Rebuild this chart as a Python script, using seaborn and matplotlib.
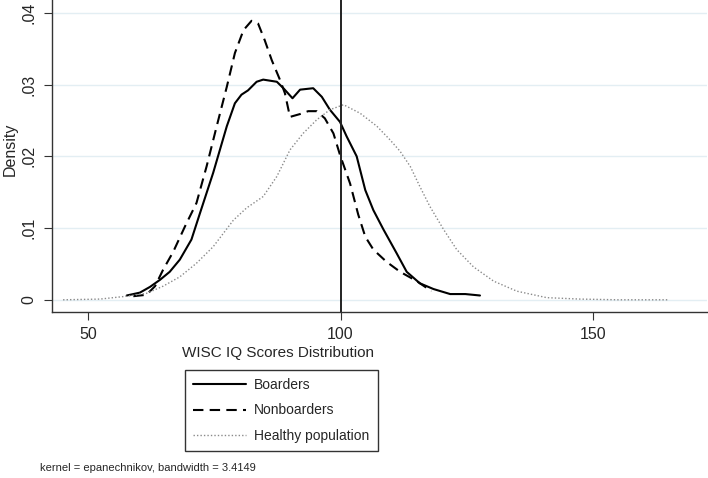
import matplotlib
matplotlib.use("Agg")

import matplotlib.pyplot as plt
import pandas as pd
import seaborn as sns

# ---------------------------------------------------------------------------
# Data (kernel density estimates)
# ---------------------------------------------------------------------------

boarders_x = [57.7, 60.3, 62.3, 64.3, 66.2, 68.2, 70.5, 72.2, 74.8, 77.5, 79.1,
              80.4, 81.7, 83.4, 84.7, 87.4, 88.7, 90.5, 92.0, 94.6, 96.3, 97.9,
              99.9, 101.2, 103.2, 104.9, 106.5, 108.5, 111.1, 113.1, 115.7,
              118.4, 121.7, 124.7, 127.6]
boarders_y = [0.0006, 0.0010, 0.0018, 0.0028, 0.0039, 0.0056, 0.0084, 0.0121,
              0.0177, 0.0242, 0.0274, 0.0286, 0.0292, 0.0304, 0.0307, 0.0304,
              0.0295, 0.0281, 0.0293, 0.0295, 0.0283, 0.0265, 0.0248, 0.0228,
              0.0200, 0.0153, 0.0125, 0.0098, 0.0065, 0.0039, 0.0023, 0.0015,
              0.0008, 0.0008, 0.0006]

nonboarders_x = [59.0, 61.6, 63.3, 64.9, 66.9, 69.2, 71.5, 73.5, 75.5, 77.5,
                 79.1, 80.8, 82.4, 83.7, 85.0, 86.4, 88.0, 89.0, 90.0, 92.0,
                 93.6, 95.3, 96.9, 98.6, 99.9, 101.9, 103.5, 104.9, 106.5,
                 109.1, 111.8, 115.1, 118.0]
nonboarders_y = [0.0005, 0.0007, 0.0019, 0.0042, 0.0067, 0.0102, 0.0135,
                 0.0186, 0.0242, 0.0297, 0.0344, 0.0376, 0.0389, 0.0385,
                 0.0362, 0.0334, 0.0307, 0.0288, 0.0255, 0.0259, 0.0263,
                 0.0263, 0.0253, 0.0232, 0.0202, 0.0162, 0.0119, 0.0088,
                 0.0070, 0.0053, 0.0039, 0.0026, 0.0012]

healthy_x = [45.1, 52.4, 57.7, 61.6, 64.9, 68.2, 71.5, 74.8, 78.8, 81.4, 84.7,
             87.4, 90.0, 92.6, 95.3, 97.9, 100.6, 103.9, 107.2, 109.8, 111.8,
             113.8, 115.7, 117.7, 120.4, 123.0, 126.3, 130.3, 134.9, 140.8,
             147.4, 155.0, 164.9]
healthy_y = [0.0000, 0.0001, 0.0005, 0.0009, 0.0019, 0.0032, 0.0051, 0.0074,
             0.0111, 0.0128, 0.0144, 0.0172, 0.0209, 0.0232, 0.0251, 0.0265,
             0.0272, 0.0260, 0.0242, 0.0223, 0.0207, 0.0186, 0.0158, 0.0130,
             0.0098, 0.0070, 0.0046, 0.0026, 0.0012, 0.0003, 0.0001, 0.0000,
             0.0000]

x_ticks = [50, 100, 150]
y_ticks = [0, 0.01, 0.02, 0.03, 0.04]
y_tick_labels = ["0", ".01", ".02", ".03", ".04"]
ref_line = 100

FONT = ["Liberation Sans", "DejaVu Sans"]

sns.set_theme(style="white")
plt.rcParams["font.family"] = FONT

fig = plt.figure(figsize=(7.08, 4.78), dpi=100)
ax = fig.add_axes([0.0734, 0.3473, 0.925, 0.6527])

series = [
    ("Boarders", boarders_x, boarders_y, "black", "-", 1.5),
    ("Nonboarders", nonboarders_x, nonboarders_y, "black", (0, (5, 3)), 1.5),
    ("Healthy population", healthy_x, healthy_y, "#8a8a8a", (0, (1, 1.5)), 1.0),
]
for name, xs, ys, color, ls, lw in series:
    df = pd.DataFrame({"x": xs, "y": ys})
    sns.lineplot(data=df, x="x", y="y", ax=ax, color=color, linestyle=ls,
                 linewidth=lw, label=name, sort=False, legend=False)

ax.axvline(ref_line, color="#222222", linewidth=1.4)

ax.set_xlim(42.9, 172.5)
ax.set_ylim(-0.0017, 0.0418)
ax.set_xticks(x_ticks)
ax.set_yticks(y_ticks)
ax.set_yticklabels(y_tick_labels, rotation=90, va="center")
ax.tick_params(axis="both", direction="out", length=6, width=0.8,
               color="#333333", labelsize=11.5, left=True, bottom=True)
ax.tick_params(axis="y", pad=5)
ax.tick_params(axis="x", pad=5)
ax.grid(True, axis="y", color="#e3eef3", linewidth=1.0)
ax.set_axisbelow(True)
for side in ["top", "right"]:
    ax.spines[side].set_visible(False)
for side in ["left", "bottom"]:
    ax.spines[side].set_color("#333333")
    ax.spines[side].set_linewidth(1.0)

ax.set_ylabel("Density", fontsize=11.5)
ax.yaxis.set_label_coords(-0.052, 0.52)
ax.set_xlabel("WISC IQ Scores Distribution", fontsize=11)
ax.xaxis.set_label_coords(0.3447, -0.108)

handles, labels = ax.get_legend_handles_labels()
leg = fig.legend(handles, labels, loc="upper left",
                 bbox_to_anchor=(0.261, 0.226), borderaxespad=0,
                 frameon=True, fancybox=False, fontsize=10,
                 handlelength=3.8, handletextpad=0.6, labelspacing=0.8,
                 borderpad=0.6)
leg.get_frame().set_edgecolor("black")
leg.get_frame().set_linewidth(1.0)

fig.text(0.056, 0.021, "kernel = epanechnikov, bandwidth = 3.4149",
         fontsize=8, ha="left", va="center")

fig.savefig("out.png", dpi=100)
